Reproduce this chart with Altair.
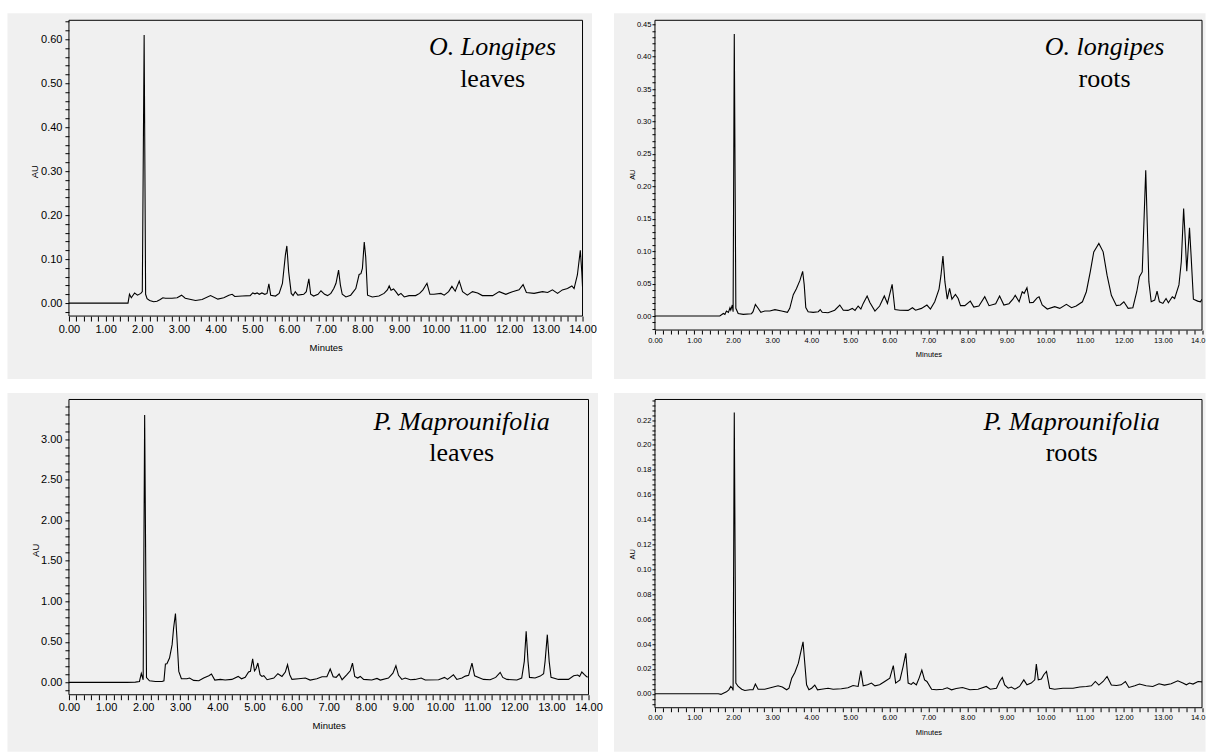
import altair as alt
import pandas as pd

# ---------------- data ----------------
t_ol_leaves = [0.00, 1.61, 1.65, 1.70, 1.79, 1.87, 1.96, 2.00, 2.05, 2.09, 2.13, 2.20, 2.31, 2.40, 2.49,
               2.56, 2.63, 2.81, 2.95, 3.07, 3.17, 3.45, 3.63, 3.86, 4.06, 4.22, 4.36, 4.45, 4.52, 4.72,
               4.94, 5.01, 5.07, 5.13, 5.19, 5.26, 5.34, 5.40, 5.45, 5.50, 5.63, 5.73, 5.82, 5.90, 5.94,
               5.99, 6.06, 6.11, 6.17, 6.24, 6.40, 6.47, 6.54, 6.59, 6.67, 6.79, 6.87, 6.97, 7.05, 7.14,
               7.22, 7.28, 7.35, 7.40, 7.45, 7.55, 7.68, 7.82, 7.91, 7.96, 8.00, 8.05, 8.09, 8.14, 8.27,
               8.45, 8.59, 8.68, 8.73, 8.78, 8.85, 8.91, 8.98, 9.05, 9.14, 9.27, 9.45, 9.56, 9.65, 9.76,
               9.84, 9.95, 10.14, 10.23, 10.35, 10.44, 10.53, 10.64, 10.73, 10.86, 11.00, 11.14, 11.27,
               11.55, 11.73, 11.91, 12.09, 12.27, 12.38, 12.47, 12.68, 12.91, 13.05, 13.18, 13.32, 13.45,
               13.59, 13.71, 13.77, 13.86, 13.94, 13.98, 14.00]
au_ol_leaves = [0.000, 0.000, 0.020, 0.012, 0.023, 0.018, 0.022, 0.026, 0.610, 0.020, 0.010, 0.006, 0.003, 0.004, 0.008,
                0.012, 0.011, 0.011, 0.012, 0.018, 0.011, 0.006, 0.008, 0.017, 0.009, 0.012, 0.018, 0.020, 0.015, 0.016,
                0.017, 0.023, 0.021, 0.023, 0.020, 0.023, 0.020, 0.022, 0.044, 0.018, 0.016, 0.022, 0.045, 0.109, 0.130,
                0.071, 0.022, 0.017, 0.026, 0.018, 0.020, 0.026, 0.055, 0.020, 0.016, 0.020, 0.028, 0.020, 0.017, 0.022,
                0.033, 0.045, 0.075, 0.041, 0.020, 0.014, 0.018, 0.033, 0.065, 0.067, 0.079, 0.139, 0.105, 0.018, 0.014,
                0.016, 0.022, 0.030, 0.039, 0.029, 0.032, 0.026, 0.018, 0.022, 0.014, 0.017, 0.017, 0.022, 0.030, 0.045,
                0.020, 0.020, 0.022, 0.018, 0.026, 0.038, 0.027, 0.050, 0.026, 0.018, 0.026, 0.023, 0.017,
                0.017, 0.026, 0.020, 0.026, 0.030, 0.042, 0.024, 0.022, 0.026, 0.024, 0.030, 0.022, 0.030,
                0.033, 0.039, 0.033, 0.064, 0.120, 0.071, 0.037]

t_ol_roots = [0.00, 1.66, 1.75, 1.79, 1.83, 1.88, 1.92, 1.94, 1.98, 2.00, 2.03, 2.07, 2.13, 2.26, 2.47,
              2.51, 2.57, 2.64, 2.71, 2.81, 2.94, 3.07, 3.24, 3.39, 3.45, 3.54, 3.62, 3.71, 3.78, 3.82,
              3.86, 3.92, 4.05, 4.18, 4.23, 4.28, 4.43, 4.60, 4.73, 4.82, 4.94, 5.05, 5.12, 5.20, 5.27,
              5.33, 5.43, 5.50, 5.63, 5.75, 5.87, 5.95, 6.07, 6.14, 6.27, 6.48, 6.59, 6.67, 6.82, 6.96,
              7.05, 7.16, 7.27, 7.32, 7.37, 7.42, 7.48, 7.54, 7.60, 7.69, 7.76, 7.82, 7.93, 8.07, 8.16,
              8.29, 8.44, 8.55, 8.72, 8.82, 8.93, 9.06, 9.16, 9.22, 9.32, 9.40, 9.45, 9.52, 9.59, 9.68,
              9.78, 9.83, 9.91, 10.04, 10.23, 10.36, 10.53, 10.66, 10.78, 10.94, 11.04, 11.14, 11.23,
              11.36, 11.47, 11.57, 11.68, 11.81, 11.91, 12.00, 12.11, 12.23, 12.33, 12.40, 12.47, 12.56,
              12.64, 12.70, 12.79, 12.85, 12.91, 13.00, 13.08, 13.14, 13.24, 13.30, 13.41, 13.47, 13.53,
              13.57, 13.61, 13.68, 13.72, 13.78, 13.89, 13.96, 14.00]
au_ol_roots = [0.000, 0.000, 0.0040, 0.0026, 0.0077, 0.0057, 0.0128, 0.0092, 0.0170, 0.0067, 0.435, 0.0120, 0.0040, 0.0026, 0.0036,
               0.0067, 0.0180, 0.0120, 0.0057, 0.0077, 0.0077, 0.0098, 0.0077, 0.0057, 0.0118, 0.0330, 0.0420, 0.0550, 0.0690, 0.0480,
               0.0130, 0.0067, 0.0057, 0.0067, 0.0100, 0.0057, 0.0050, 0.0090, 0.0170, 0.0090, 0.0087, 0.0118, 0.0087, 0.0154, 0.0108,
               0.0195, 0.0310, 0.0210, 0.0077, 0.0154, 0.0310, 0.0195, 0.0490, 0.0100, 0.0090, 0.0087, 0.0128, 0.0090, 0.0118, 0.0170,
               0.0108, 0.0220, 0.0416, 0.0630, 0.0925, 0.0530, 0.0260, 0.0426, 0.0260, 0.0334, 0.0270, 0.0160, 0.0160, 0.0230, 0.0139,
               0.0154, 0.0298, 0.0160, 0.0190, 0.0308, 0.0170, 0.0190, 0.0260, 0.0320, 0.0220, 0.0375, 0.0350, 0.0437, 0.0205, 0.0210,
               0.0280, 0.0298, 0.0170, 0.0108, 0.0144, 0.0118, 0.0180, 0.0128, 0.0154, 0.0220, 0.0375, 0.0680, 0.0990,
               0.1120, 0.0990, 0.0630, 0.0320, 0.0160, 0.0170, 0.0220, 0.0118, 0.0128, 0.0375, 0.0606, 0.0680, 0.2250,
               0.0530, 0.0220, 0.0247, 0.0385, 0.0220, 0.0195, 0.0270, 0.0205, 0.0298, 0.0270, 0.0480, 0.0837, 0.1660,
               0.1200, 0.0690, 0.1360, 0.0940, 0.0260, 0.0230, 0.0220, 0.0260]

t_pm_leaves = [0.00, 1.57, 1.79, 1.90, 1.95, 2.00, 2.04, 2.09, 2.17, 2.33, 2.51, 2.56, 2.60, 2.64, 2.71,
               2.78, 2.82, 2.87, 2.91, 2.96, 3.03, 3.18, 3.25, 3.36, 3.50, 3.63, 3.77, 3.84, 3.93, 4.08,
               4.21, 4.39, 4.56, 4.65, 4.75, 4.84, 4.89, 4.95, 5.00, 5.04, 5.09, 5.15, 5.20, 5.25, 5.34,
               5.52, 5.63, 5.74, 5.83, 5.89, 5.95, 6.01, 6.19, 6.37, 6.50, 6.68, 6.82, 6.95, 7.04, 7.12,
               7.20, 7.28, 7.36, 7.49, 7.58, 7.64, 7.70, 7.78, 7.85, 7.94, 8.16, 8.30, 8.39, 8.61, 8.73,
               8.81, 8.88, 8.97, 9.06, 9.20, 9.33, 9.49, 9.60, 9.96, 10.12, 10.20, 10.36, 10.45, 10.59,
               10.68, 10.77, 10.86, 10.93, 11.04, 11.17, 11.35, 11.50, 11.62, 11.69, 11.80, 12.07, 12.20,
               12.27, 12.32, 12.37, 12.41, 12.56, 12.70, 12.79, 12.83, 12.89, 12.94, 12.99, 13.19, 13.46,
               13.60, 13.71, 13.76, 13.82, 13.89, 13.95, 14.00]
au_pm_leaves = [0.000, 0.000, 0.004, 0.012, 0.110, 0.033, 3.300, 0.060, 0.020, 0.012, 0.012, 0.020, 0.227, 0.230, 0.300,
                0.466, 0.670, 0.850, 0.548, 0.136, 0.045, 0.045, 0.054, 0.025, 0.020, 0.054, 0.082, 0.103, 0.029, 0.037,
                0.029, 0.037, 0.074, 0.045, 0.062, 0.128, 0.136, 0.290, 0.144, 0.169, 0.239, 0.095, 0.074, 0.082, 0.033,
                0.054, 0.107, 0.074, 0.128, 0.218, 0.095, 0.037, 0.045, 0.054, 0.029, 0.045, 0.070, 0.070, 0.165, 0.070,
                0.062, 0.103, 0.033, 0.095, 0.144, 0.239, 0.074, 0.054, 0.074, 0.037, 0.029, 0.049, 0.029, 0.054, 0.115,
                0.206, 0.087, 0.037, 0.054, 0.033, 0.037, 0.054, 0.029, 0.033, 0.062, 0.037, 0.095, 0.037, 0.054,
                0.078, 0.087, 0.239, 0.082, 0.062, 0.037, 0.033, 0.062, 0.124, 0.062, 0.037, 0.029, 0.054,
                0.260, 0.630, 0.260, 0.062, 0.054, 0.078, 0.107, 0.260, 0.589, 0.260, 0.062, 0.037, 0.037,
                0.082, 0.091, 0.074, 0.128, 0.095, 0.070, 0.066]

t_pm_roots = [0.00, 1.62, 1.69, 1.75, 1.83, 1.89, 1.94, 1.98, 2.00, 2.03, 2.07, 2.13, 2.22, 2.30, 2.43,
              2.51, 2.57, 2.64, 2.81, 3.03, 3.15, 3.26, 3.37, 3.43, 3.50, 3.58, 3.67, 3.73, 3.79, 3.82,
              3.88, 3.94, 4.01, 4.09, 4.16, 4.26, 4.43, 4.56, 4.77, 4.94, 5.07, 5.20, 5.27, 5.33, 5.44,
              5.54, 5.63, 5.75, 5.88, 6.01, 6.10, 6.16, 6.27, 6.35, 6.42, 6.48, 6.56, 6.61, 6.69, 6.76,
              6.83, 6.90, 6.96, 7.08, 7.20, 7.37, 7.48, 7.59, 7.71, 7.87, 8.06, 8.27, 8.48, 8.58, 8.74,
              8.82, 8.89, 8.95, 9.04, 9.12, 9.21, 9.33, 9.44, 9.52, 9.63, 9.72, 9.76, 9.81, 9.89, 9.95,
              10.02, 10.10, 10.23, 10.44, 10.70, 10.87, 11.04, 11.17, 11.27, 11.36, 11.47, 11.57, 11.68,
              11.81, 11.93, 12.04, 12.13, 12.28, 12.40, 12.57, 12.74, 12.90, 13.04, 13.21, 13.38, 13.51,
              13.60, 13.68, 13.77, 13.90, 14.00]
au_pm_roots = [0.0000, 0.0000, -0.0005, 0.0005, 0.0016, 0.0032, 0.0059, 0.0045, 0.0027, 0.2260, 0.0086, 0.0059, 0.0037, 0.0027, 0.0032,
               0.0032, 0.0078, 0.0037, 0.0037, 0.0054, 0.0064, 0.0054, 0.0032, 0.0045, 0.0126, 0.0171, 0.0246, 0.0332, 0.0418, 0.0300,
               0.0072, 0.0032, 0.0045, 0.0070, 0.0032, 0.0037, 0.0045, 0.0037, 0.0040, 0.0048, 0.0067, 0.0059, 0.0187, 0.0064, 0.0072,
               0.0086, 0.0064, 0.0072, 0.0099, 0.0126, 0.0227, 0.0086, 0.0112, 0.0219, 0.0326, 0.0086, 0.0075, 0.0091, 0.0072, 0.0126,
               0.0190, 0.0112, 0.0099, 0.0037, 0.0032, 0.0037, 0.0048, 0.0032, 0.0043, 0.0051, 0.0032, 0.0037, 0.0059, 0.0037, 0.0045,
               0.0099, 0.0131, 0.0072, 0.0045, 0.0054, 0.0037, 0.0059, 0.0112, 0.0072, 0.0086, 0.0112, 0.0238, 0.0112, 0.0118, 0.0153,
               0.0179, 0.0045, 0.0037, 0.0045, 0.0045, 0.0054, 0.0059, 0.0064, 0.0099, 0.0070, 0.0099, 0.0139, 0.0070,
               0.0067, 0.0072, 0.0099, 0.0051, 0.0064, 0.0078, 0.0064, 0.0059, 0.0080, 0.0070, 0.0080, 0.0104, 0.0086,
               0.0072, 0.0086, 0.0078, 0.0099, 0.0096]

species = ["O. Longipes", "O. longipes", "P. Maprounifolia", "P. Maprounifolia"]
organs = ["leaves", "roots", "leaves", "roots"]

# ---------------- styling ----------------
BG = "#f0f0f0"
AXFONT = "Liberation Sans, Arial, sans-serif"
SERIF = "Liberation Serif, Times New Roman, serif"


def ticks(lo, hi, step):
    n0 = int(round(lo / step))
    n1 = int(round(hi / step))
    return [round(k * step, 4) for k in range(n0, n1 + 1)]


def panel(t, v, sp, org, cfg):
    W, H = cfg["W"], cfg["H"]
    df = pd.DataFrame({"Minutes": t, "AU": v})
    one = alt.Data(values=[{"k": 0}])
    xvals = ticks(0, 14, 0.2)
    xexpr = ("abs(datum.value - round(datum.value)) < 0.001 ? "
             "(datum.value == 14 ? '" + cfg["last"] + "' : format(datum.value, '.2f')) : ''")
    m = cfg["major"]
    yexpr = (f"(abs(datum.value/{m} - round(datum.value/{m})) < 0.000001 && datum.value > -0.000001) ? "
             "format(datum.value, '.2f') : ''")
    xaxis_kw = dict(
        values=xvals, labelExpr=xexpr, tickSize=cfg["xtick"], labelPadding=cfg["xpad"],
        labelFont=AXFONT, labelFontSize=cfg["fs"], labelColor="black", tickColor="black",
        domain=False, grid=False, labelOverlap=False, labelFlush=False,
        title="Minutes", titleFont=AXFONT, titleFontSize=cfg["tfs"], titleFontWeight="normal",
        titleColor="black", titleX=W / 2, titleY=cfg["minY"], titleBaseline="middle",
        titleAlign="center", zindex=1,
    )
    if cfg["last"] != "14.00":
        xaxis_kw["labelAlign"] = {"condition": {"test": "datum.value == 14", "value": "right"}, "value": "center"}
        xaxis_kw["labelOffset"] = {"condition": {"test": "datum.value == 14", "value": 3}, "value": 0}
    xaxis = alt.Axis(**xaxis_kw)
    yaxis = alt.Axis(
        values=ticks(cfg["ytlo"], cfg["ythi"], cfg["minor"]), labelExpr=yexpr,
        tickSize=cfg["ytick"], labelPadding=cfg["ypad"], labelFont=AXFONT,
        labelFontSize=cfg["fs"], labelColor="black", tickColor="black", domain=False, grid=False,
        labelOverlap=False, title="AU", titleFont=AXFONT, titleFontSize=cfg["tfs"],
        titleFontWeight="normal", titleColor="black", titleX=cfg["auX"], titleY=cfg["auY"],
        titleAngle=270, titleBaseline="middle", titleAlign="center", zindex=1,
    )
    bx0, bx1, by0, by1 = cfg["bg"]
    bg = alt.Chart(one).mark_rect(color=BG).encode(
        x=alt.value(bx0), x2=alt.value(bx1), y=alt.value(by0), y2=alt.value(by1))
    frame = alt.Chart(one).mark_rect(fillOpacity=0, stroke="black", strokeWidth=1).encode(
        x=alt.value(0), x2=alt.value(W), y=alt.value(0), y2=alt.value(H))
    line = alt.Chart(df).mark_line(color="black", strokeWidth=1.1, clip=True).encode(
        x=alt.X("Minutes:Q", scale=alt.Scale(domain=[0, 14], nice=False, zero=False), axis=xaxis),
        y=alt.Y("AU:Q", scale=alt.Scale(domain=cfg["ydom"], nice=False, zero=False), axis=yaxis),
        order="Minutes:Q",
    )
    tx, ty1, ty2 = cfg["txt"]
    t1 = alt.Chart(one).mark_text(font=SERIF, fontSize=26, fontStyle="italic", align="center",
                                  baseline="alphabetic", color="black").encode(
        x=alt.value(tx), y=alt.value(ty1), text=alt.value(sp))
    t2 = alt.Chart(one).mark_text(font=SERIF, fontSize=26, align="center",
                                  baseline="alphabetic", color="black").encode(
        x=alt.value(tx), y=alt.value(ty2), text=alt.value(org))
    return alt.layer(bg, frame, line, t1, t2).properties(width=W, height=H)


big = dict(fs=11, tfs=9.5, xtick=5, xpad=2, ytick=4, ypad=3, last="14.00")
small = dict(fs=7.5, tfs=7.5, xtick=4, xpad=2, ytick=3, ypad=1, last="14.0")

cfg1 = dict(big, W=514, H=296, ydom=[-0.0295, 0.6432], ytlo=-0.02, ythi=0.64, minor=0.02, major=0.1,
            auX=-34, auY=151, minY=31, txt=(424, 35, 67), bg=(-61.5, 523.5, -7, 359))
cfg2 = dict(small, W=547.5, H=310, ydom=[-0.0216, 0.4562], ytlo=-0.02, ythi=0.45, minor=0.01, major=0.05,
            auX=-22, auY=154, minY=24, txt=(450, 35, 67), bg=(-41, 551, -7, 359))
cfg3 = dict(big, W=520, H=295.5, ydom=[-0.152, 3.49], ytlo=-0.1, ythi=3.4, minor=0.1, major=0.5,
            auX=-33.3, auY=150.5, minY=30.7, txt=(393, 31, 62), bg=(-61.5, 529.5, -6.5, 352.5))
cfg4 = dict(small, W=547.5, H=308.5, ydom=[-0.0112, 0.2365], ytlo=-0.008, ythi=0.236, minor=0.004, major=0.02,
            auX=-22, auY=154.5, minY=25, txt=(417, 31, 62), bg=(-41, 551, -6.5, 352.5))

p1 = panel(t_ol_leaves, au_ol_leaves, species[0], organs[0], cfg1)
p2 = panel(t_ol_roots, au_ol_roots, species[1], organs[1], cfg2)
p3 = panel(t_pm_leaves, au_pm_leaves, species[2], organs[2], cfg3)
p4 = panel(t_pm_roots, au_pm_roots, species[3], organs[3], cfg4)

chart = alt.concat(p1, p2, p3, p4, columns=2).properties(
    spacing={"row": 69.5, "column": 66.5},
    bounds="flush",
    align="each",
    padding={"left": 7, "top": 13, "right": 0, "bottom": 0},
    background="white",
).configure_view(strokeWidth=0)

chart.save("out.html", embed_options={"renderer": "svg", "actions": False})
